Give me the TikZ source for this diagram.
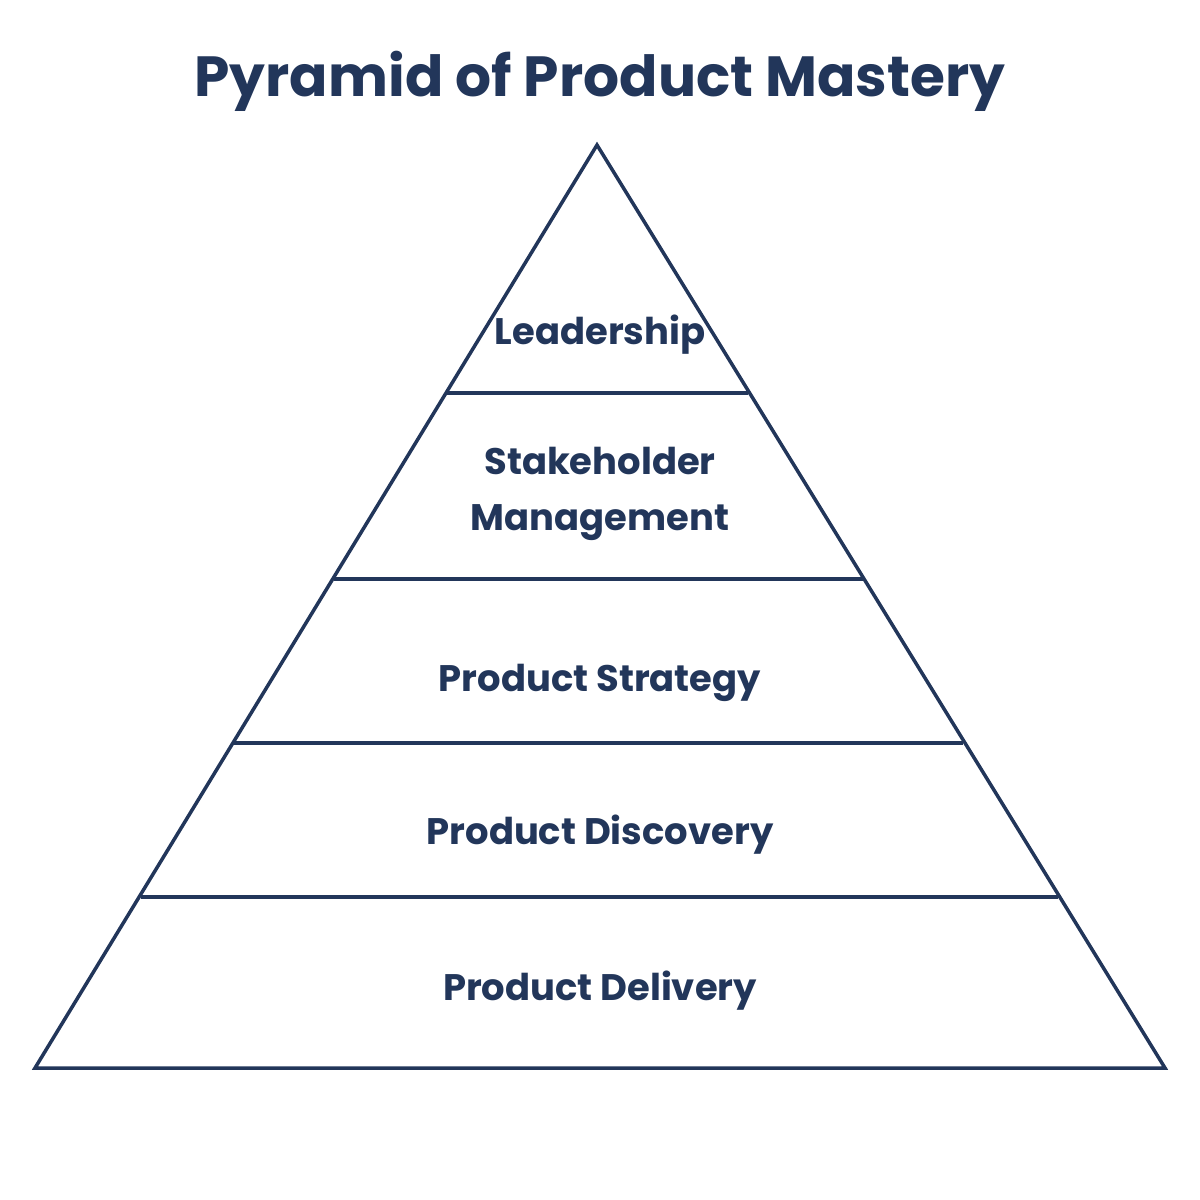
\documentclass[tikz,border=0pt]{standalone}
\usepackage{fontspec}
\setmainfont{Poppins}
\definecolor{navy}{HTML}{22365A}
\begin{document}
\begin{tikzpicture}[x=0.01cm,y=-0.01cm,
  layer/.style={font=\bfseries\fontsize{10.5}{16}\selectfont,text=navy,align=center},
  edge/.style={navy,line width=1pt,line join=miter}]
\useasboundingbox (0,0) rectangle (1200,1200);
\node[font=\bfseries\fontsize{16.1}{20}\selectfont,text=navy] (title) at (600,81) {Pyramid of Product Mastery};
% outline
\coordinate (apex) at (597,145);
\coordinate (bl) at (35,1068);
\coordinate (br) at (1165,1068);
\draw[edge] (apex) -- (br) -- (bl) -- cycle;
% tiers
\draw[edge] (447,393) -- (748,393);
\draw[edge] (334,579) -- (863,579);
\draw[edge] (234,743) -- (963,743);
\draw[edge] (141,897) -- (1058,897);
%
\node[layer] (lead) at (600,335) {Leadership};
\node[layer] (stake) at (600,494) {Stakeholder\\Management};
\node[layer] (strat) at (600,683) {Product Strategy};
\node[layer] (disc) at (600,835) {Product Discovery};
\node[layer] (deliv) at (600,991) {Product Delivery};
\end{tikzpicture}
\end{document}
